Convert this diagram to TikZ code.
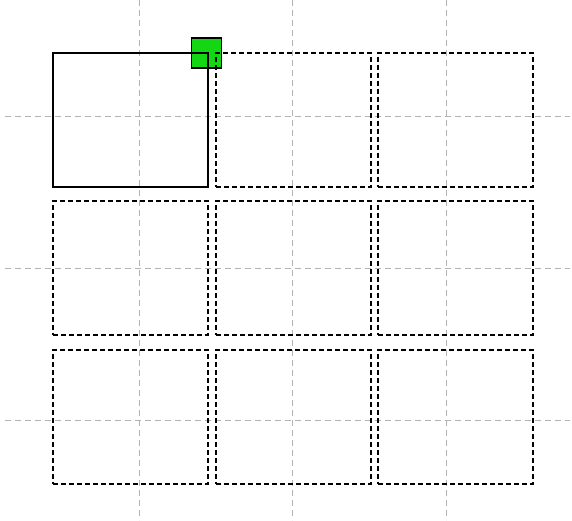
\documentclass[tikz,border=0pt]{standalone}
\begin{document}
\begin{tikzpicture}[x=1pt,y=-1pt,
  gridline/.style={draw=gray!60,line width=1pt,dash pattern=on 6pt off 4pt},
  cell/.style={draw=black,line width=1.6pt,dash pattern=on 5pt off 3pt,minimum width=155pt,minimum height=134pt,inner sep=0pt,anchor=north west},
  solidcell/.style={draw=black,line width=1.6pt,minimum width=155pt,minimum height=134pt,inner sep=0pt,anchor=north west},
  handle/.style={draw=black,fill={rgb,255:red,20;green,215;blue,20},line width=1.3pt,minimum size=30pt,inner sep=0pt}]
\useasboundingbox (0,0) rectangle (572,520);
% background grid
\foreach \gx in {139,292,446} \draw[gridline] (\gx,0) -- (\gx,520);
\foreach \gy in {116,268,420} \draw[gridline] (5,\gy) -- (570,\gy);
% handle (drawn below the cells)
\coordinate (corner) at (207,52);
\node[handle] (h) at ([xshift=-0.5pt,yshift=-1pt]corner) {};
% cells
\node[cell] (c12) at (215,52) {};
\node[cell] (c13) at (377,52) {};
\node[cell] (c21) at (52,200) {};
\node[cell] (c22) at (215,200) {};
\node[cell] (c23) at (377,200) {};
\node[cell] (c31) at (52,349) {};
\node[cell] (c32) at (215,349) {};
\node[cell] (c33) at (377,349) {};
\node[solidcell] (c11) at (52,52) {};
\end{tikzpicture}
\end{document}
